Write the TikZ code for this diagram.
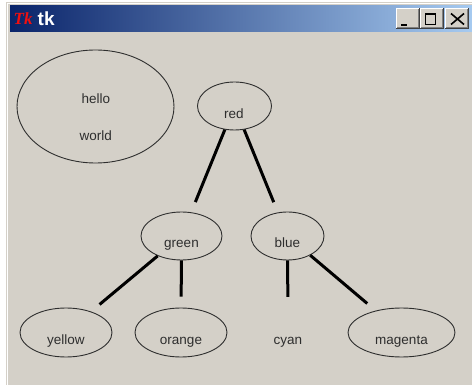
\documentclass[tikz,border=0pt]{standalone}
\usepackage{fontspec}
\setmainfont{Liberation Sans}
\newfontfamily\logofont{Liberation Serif}
\usetikzlibrary{shapes.geometric}
\definecolor{winface}{HTML}{D4D0C8}
\definecolor{titledark}{HTML}{0A246A}
\definecolor{titlelight}{HTML}{A6CAF0}
\definecolor{btnshadow}{HTML}{808080}
\definecolor{btndark}{HTML}{404040}
\definecolor{inkgray}{HTML}{2E2E2E}
\definecolor{logored}{HTML}{F01010}
\tikzset{
  oval/.style={ellipse, draw=inkgray, line width=0.9pt, inner sep=0pt},
  ghost/.style={ellipse, inner sep=0pt},
  lbl/.style={anchor=base, inner sep=0pt, text=inkgray,
    font=\fontsize{13.5}{16}\selectfont},
  branch/.style={line width=3pt, black, shorten >=11pt},
}
\begin{document}
\begin{tikzpicture}[x=1pt, y=-1pt]
\useasboundingbox (0,0) rectangle (472,385);
% window frame and client area
\fill[white] (0,0) rectangle (472,385);
\fill[winface] (6,2) rectangle (472,385);
\draw[white, line width=1pt] (7.5,385) -- (7.5,3.5) -- (472,3.5);
% title bar
\shade[left color=titledark, right color=titlelight] (10,6) rectangle (472,31.5);
\node[anchor=base west, inner sep=0pt, text=logored,
  font=\fontsize{17}{17}\logofont\bfseries\itshape] (tklogo) at (13.5,25) {Tk};
\node[anchor=base west, inner sep=0pt, text=white,
  font=\fontsize{19}{19}\selectfont\bfseries] (tktitle) at (37.5,25.9) {tk};
% caption buttons
\foreach \bx in {396, 420, 445}{
  \fill[btndark] (\bx,8.5) rectangle (\bx+23.5,29.5);
  \fill[white] (\bx,8.5) rectangle (\bx+22.5,28.5);
  \fill[btnshadow] (\bx+1,9.5) rectangle (\bx+22.5,28.5);
  \fill[winface] (\bx+1,9.5) rectangle (\bx+21.5,27.5);
}
\fill[black] (400.7,24) rectangle (406.7,26);
\draw[black, line width=1pt] (425.5,14.2) rectangle (435.5,24.5);
\draw[black, line width=2pt] (425,13.7) -- (436,13.7);
\draw[black, line width=1.6pt] (451,13.5) -- (464,24.5) (464,13.5) -- (451,24.5);
% canvas items
\node[oval, minimum width=157pt, minimum height=113pt] (hw) at (95.5,106.5) {};
\node[lbl] (hwa) at (95.8,104) {hello};
\node[lbl] (hwb) at (95.8,141) {world};

\node[oval, minimum width=74pt, minimum height=48pt] (red) at (234.5,106) {};
\node[oval, minimum width=81pt, minimum height=48pt] (green) at (181.5,236) {};
\node[oval, minimum width=73pt, minimum height=48pt] (blue) at (287.5,236) {};
\node[oval, minimum width=92pt, minimum height=49pt] (yellow) at (66,332.5) {};
\node[oval, minimum width=92pt, minimum height=49pt] (orange) at (181,332.5) {};
\node[ghost, minimum width=92pt, minimum height=49pt] (cyan) at (288,332.5) {};
\node[oval, minimum width=107pt, minimum height=49pt] (magenta) at (401.5,332.5) {};

\node[lbl] (redt) at (234,119) {red};
\node[lbl] (greent) at (181.5,248) {green};
\node[lbl] (bluet) at (287.5,248) {blue};
\node[lbl] (yellowt) at (66,344.5) {yellow};
\node[lbl] (oranget) at (181,344.5) {orange};
\node[lbl] (cyant) at (288,344.5) {cyan};
\node[lbl] (magentat) at (401.5,344.5) {magenta};

% tree branches
\draw[branch] (red) -- (green);
\draw[branch] (red) -- (blue);
\draw[branch] (green) -- (yellow);
\draw[branch] (green) -- (orange);
\draw[branch] (blue) -- (cyan);
\draw[branch] (blue) -- (magenta);
\end{tikzpicture}
\end{document}
